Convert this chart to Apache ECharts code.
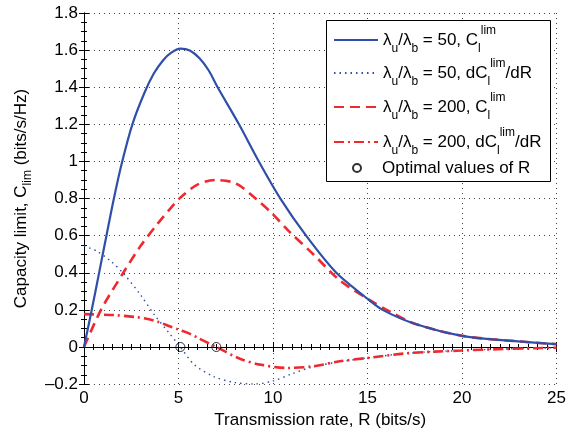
<!DOCTYPE html>
<html><head><meta charset="utf-8">
<script src="https://cdn.jsdelivr.net/npm/echarts@6/dist/echarts.min.js"></script>
<style>html,body{margin:0;padding:0;background:#fff}#c{width:569px;height:434px}</style>
</head><body><div id="c"></div>
<script>
// ---- data ----
const r50C = [0, 0.43, 0.81, 1.14, 1.56, 2.0, 2.56, 3.2, 3.7, 4.2, 4.6, 5.1, 5.6, 6.1, 6.6, 7.07, 8.2, 9.25, 10.39, 11.75, 13.35, 15.0, 15.8, 17.5, 20, 22.5, 25];
const c50  = [0, 0.21, 0.405, 0.575, 0.79, 0.99, 1.2, 1.37, 1.475, 1.547, 1.585, 1.608, 1.598, 1.557, 1.49, 1.4, 1.2, 1.0, 0.8, 0.6, 0.4, 0.26, 0.2, 0.125, 0.06, 0.034, 0.015];

const r50D = [0, 0.7, 1.39, 2.08, 2.96, 3.75, 4.45, 5.1, 5.83, 6.88, 8.0, 9.0, 10.0, 11.0, 12.0, 13.5, 14.92, 17.19, 19.95, 22.5, 25];
const d50  = [0.545, 0.515, 0.465, 0.397, 0.285, 0.17, 0.082, 0, -0.095, -0.16, -0.192, -0.2, -0.183, -0.145, -0.11, -0.08, -0.06, -0.033, -0.019, -0.01, -0.004];

const r200C = [0, 0.9, 2.08, 3.0, 3.9, 4.6, 5.1, 6.0, 6.98, 7.8, 8.29, 9.08, 9.9, 10.9, 12.13, 13.52, 15, 16.2, 17.5, 20, 22.5, 25];
const c200  = [0, 0.2, 0.4, 0.545, 0.665, 0.75, 0.805, 0.875, 0.90, 0.89, 0.866, 0.80, 0.725, 0.618, 0.5, 0.36, 0.26, 0.19, 0.125, 0.06, 0.034, 0.015];

const r200D = [0, 1.56, 2.69, 3.31, 3.91, 4.53, 5.0, 5.58, 6.01, 7.0, 8.28, 9.33, 10.73, 12.13, 13.52, 14.92, 17.19, 19.95, 22.5, 25];
const d200  = [0.177, 0.172, 0.162, 0.152, 0.136, 0.112, 0.094, 0.072, 0.05, 0, -0.065, -0.095, -0.113, -0.104, -0.077, -0.06, -0.033, -0.019, -0.01, -0.004];

const optR = [5.1, 7.0];
const optV = [0, 0];

const xTicks = [0, 5, 10, 15, 20, 25];
const yTicks = [-0.2, 0, 0.2, 0.4, 0.6, 0.8, 1, 1.2, 1.4, 1.6, 1.8];

const legendText = {
  '50C':  'λ{s|u}/λ{s|b} = 50, C{s|l}{p|lim}',
  '50D':  'λ{s|u}/λ{s|b} = 50, dC{s|l}{p|lim}/dR',
  '200C': 'λ{s|u}/λ{s|b} = 200, C{s|l}{p|lim}',
  '200D': 'λ{s|u}/λ{s|b} = 200, dC{s|l}{p|lim}/dR',
  'opt':  '{g|}Optimal values of R'
};

const FONT = '"Liberation Sans", Arial, Helvetica, sans-serif';
const BLUE = '#2f4fa8', RED = '#ee2a2f';
const pairs = (xs, ys) => xs.map((x, i) => [x, ys[i]]);

const chart = echarts.init(document.getElementById('c'), null, {renderer: 'canvas'});

const commonAxis = {
  axisLine: {show: true, lineStyle: {color: '#000', width: 1}},
  axisTick: {show: true, inside: true, length: 5, lineStyle: {color: '#000'}},
  minorTick: {show: true, length: 3, lineStyle: {color: '#000'}}
};

const richLegend = {
  s: {fontSize: 12, fontFamily: FONT, color: '#000', verticalAlign: 'bottom', lineHeight: 14},
  p: {fontSize: 12, fontFamily: FONT, color: '#000', verticalAlign: 'top', lineHeight: 20},
  g: {width: 16}
};

function mkLegend(name, top) {
  return {
    data: [name], left: 333, top: top, padding: 0, itemWidth: 44, itemHeight: 14,
    selectedMode: false, z: 20,
    itemStyle: {color: 'rgba(0,0,0,0)', borderWidth: 0, opacity: 0},
    formatter: n => legendText[n],
    textStyle: {fontSize: 17, fontFamily: FONT, color: '#000', lineHeight: 30, rich: richLegend}
  };
}

const option = {
  animation: false,
  backgroundColor: '#fff',
  grid: {left: 82, right: 11, top: 13, bottom: 46},
  xAxis: [
    Object.assign({}, commonAxis, {
      type: 'value', min: xTicks[0], max: xTicks[xTicks.length - 1], interval: 5, position: 'bottom',
      minorTick: Object.assign({}, commonAxis.minorTick, {splitNumber: 10}),
      splitLine: {show: true, lineStyle: {type: [1, 4], color: '#444', width: 1}},
      axisLabel: {fontSize: 17, fontFamily: FONT, color: '#000', margin: 6},
      name: 'Transmission rate, R (bits/s)', nameLocation: 'middle', nameGap: 24,
      nameTextStyle: {fontSize: 17, fontFamily: FONT, color: '#000'}
    }),
    Object.assign({}, commonAxis, {
      type: 'value', min: 0, max: 25, interval: 5, position: 'top',
      minorTick: Object.assign({}, commonAxis.minorTick, {splitNumber: 10}),
      axisLabel: {show: false}, splitLine: {show: false}
    })
  ],
  yAxis: [
    Object.assign({}, commonAxis, {
      type: 'value', min: yTicks[0], max: yTicks[yTicks.length - 1], interval: 0.2, position: 'left',
      minorTick: Object.assign({}, commonAxis.minorTick, {splitNumber: 4}),
      splitLine: {show: true, lineStyle: {type: [1, 4], color: '#444', width: 1}},
      axisLabel: {fontSize: 17, fontFamily: FONT, color: '#000', margin: 6,
        formatter: v => { const r = Math.round(v * 10) / 10; return r < 0 ? '\u2013' + Math.abs(r) : String(r); }},
      name: 'Capacity limit, C{s|lim} (bits/s/Hz)', nameLocation: 'middle', nameGap: 48,
      nameTextStyle: {fontSize: 17, fontFamily: FONT, color: '#000', lineHeight: 26,
        rich: {s: {fontSize: 12, fontFamily: FONT, color: '#000', verticalAlign: 'bottom', lineHeight: 14}}}
    }),
    Object.assign({}, commonAxis, {
      type: 'value', min: -0.2, max: 1.8, interval: 0.2, position: 'right',
      minorTick: Object.assign({}, commonAxis.minorTick, {splitNumber: 4}),
      axisLabel: {show: false}, splitLine: {show: false}
    })
  ],
  legend: [
    mkLegend('50C', 25),
    mkLegend('50D', 58),
    mkLegend('200C', 92),
    mkLegend('200D', 127),
    {
      data: ['opt'], left: 352, top: 158, padding: 0, itemWidth: 8, itemHeight: 8,
      selectedMode: false, z: 20,
      formatter: n => legendText[n],
      textStyle: {fontSize: 17, fontFamily: FONT, color: '#000', lineHeight: 20, rich: richLegend}
    }
  ],
  graphic: [{
    type: 'rect', z: 10,
    shape: {x: 326.5, y: 20.5, width: 224, height: 161},
    style: {fill: '#fff', stroke: '#000', lineWidth: 1}
  }],
  series: [
    {name: '50C', type: 'line', data: pairs(r50C, c50), symbol: 'none', smooth: 0.3,
     lineStyle: {color: BLUE, width: 2.2, type: 'solid'}, itemStyle: {color: BLUE}, z: 5},
    {name: '50D', type: 'line', data: pairs(r50D, d50), symbol: 'none', smooth: 0.3,
     lineStyle: {color: BLUE, width: 1.4, type: [1.5, 4]}, itemStyle: {color: BLUE}, z: 4},
    {name: '200C', type: 'line', data: pairs(r200C, c200), symbol: 'none', smooth: 0.3,
     lineStyle: {color: RED, width: 2.6, type: [10, 6]}, itemStyle: {color: RED}, z: 4},
    {name: '200D', type: 'line', data: pairs(r200D, d200), symbol: 'none', smooth: 0.3,
     lineStyle: {color: RED, width: 2.6, type: [10, 4, 2, 4]}, itemStyle: {color: RED}, z: 4},
    {name: 'opt', type: 'scatter', data: pairs(optR, optV), symbol: 'circle', symbolSize: 9,
     itemStyle: {color: 'rgba(0,0,0,0)', borderColor: '#000', borderWidth: 1}, z: 6}
  ]
};
chart.setOption(option);
</script></body></html>
